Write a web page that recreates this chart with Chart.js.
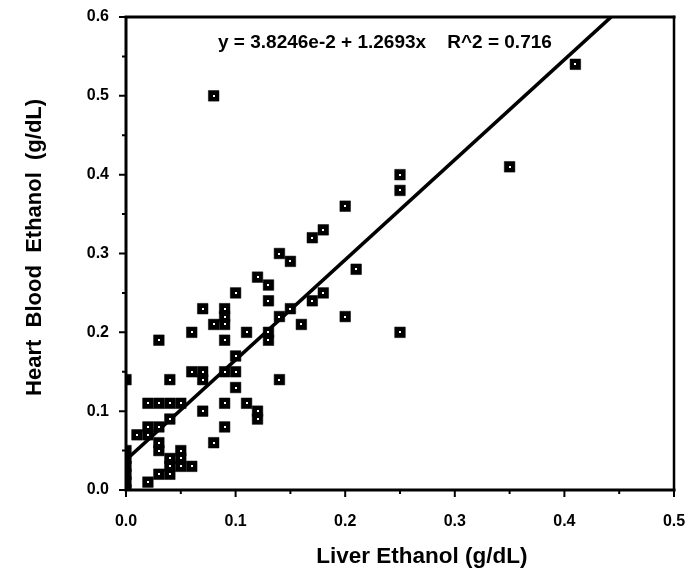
<!DOCTYPE html>
<html>
<head>
<meta charset="utf-8">
<script src="https://cdn.jsdelivr.net/npm/chart.js@4.4.0/dist/chart.umd.min.js"></script>
<style>
html,body{margin:0;padding:0;background:#fff;}
#wrap{width:685px;height:574px;}
</style>
</head>
<body>
<div id="wrap"><canvas id="c" width="685" height="574"></canvas></div>
<script>
// Liver ethanol (x) and heart blood ethanol (y), g/dL
const liverX = [
  0.08, 0.41, 0.35, 0.25, 0.25, 0.20, 0.18, 0.17, 0.14, 0.15, 0.21, 0.12, 0.13, 0.10, 0.18,
  0.13, 0.17, 0.15, 0.14, 0.20, 0.16, 0.25, 0.11, 0.13, 0.13,
  0.07, 0.09, 0.09, 0.08, 0.09, 0.06, 0.03, 0.09, 0.10, 0.06, 0.07, 0.09, 0.10, 0.04, 0.07,
  0.00, 0.14, 0.10,
  0.02, 0.03, 0.04, 0.05, 0.09, 0.11, 0.07, 0.12, 0.12, 0.04, 0.09, 0.02, 0.03, 0.01, 0.02,
  0.08, 0.03, 0.03, 0.05, 0.04, 0.05, 0.04, 0.05, 0.06, 0.03, 0.04, 0.02,
  0.00, 0.00, 0.00, 0.00, 0.00, 0.00
];
const heartY = [
  0.50, 0.54, 0.41, 0.40, 0.38, 0.36, 0.33, 0.32, 0.30, 0.29, 0.28, 0.27, 0.26, 0.25, 0.25,
  0.24, 0.24, 0.23, 0.22, 0.22, 0.21, 0.20, 0.20, 0.20, 0.19,
  0.23, 0.23, 0.22, 0.21, 0.21, 0.20, 0.19, 0.19, 0.17, 0.15, 0.15, 0.15, 0.15, 0.14, 0.14,
  0.14, 0.14, 0.13,
  0.11, 0.11, 0.11, 0.11, 0.11, 0.11, 0.10, 0.10, 0.09, 0.09, 0.08, 0.08, 0.08, 0.07, 0.07,
  0.06, 0.06, 0.05, 0.05, 0.04, 0.04, 0.03, 0.03, 0.03, 0.02, 0.02, 0.01,
  0.05, 0.04, 0.03, 0.02, 0.01, 0.00
];
// Regression: y = 3.8246e-2 + 1.2693x
const fitCoef = [0.038246, 1.2693];
const fitX = [0, 0.4427];
const fitLabel = "y = 3.8246e-2 + 1.2693x    R^2 = 0.716";
const xTicks = [0.0, 0.1, 0.2, 0.3, 0.4, 0.5];
const yTicks = [0.0, 0.1, 0.2, 0.3, 0.4, 0.5, 0.6];
const xTitle = "       Liver Ethanol (g/dL)";
const yTitle = "  Heart  Blood  Ethanol  (g/dL)";

const scatterData = liverX.map((x, i) => ({x: x, y: heartY[i]}));
const fitData = fitX.map(x => ({x: x, y: fitCoef[0] + fitCoef[1] * x}));

const FONT = "'Liberation Sans', Arial, Helvetica, sans-serif";

const framePlugin = {
  id: 'frame',
  afterDatasetsDraw(chart) {
    const {ctx, chartArea: a, scales} = chart;
    ctx.save();
    // white specks in the markers
    ctx.fillStyle = '#fff';
    chart.getDatasetMeta(1).data.forEach(el => {
      ctx.fillRect(Math.round(el.x) - 1, Math.round(el.y) - 1, 2, 2);
    });
    ctx.strokeStyle = '#000';
    ctx.lineCap = 'square';
    // frame
    ctx.lineWidth = 3;
    ctx.beginPath();
    ctx.moveTo(a.left, a.bottom); ctx.lineTo(a.left, a.top); ctx.lineTo(a.right, a.top);
    ctx.moveTo(a.left, a.bottom); ctx.lineTo(a.right, a.bottom);
    ctx.stroke();
    ctx.lineWidth = 2.5;
    ctx.beginPath();
    ctx.moveTo(a.right, a.top); ctx.lineTo(a.right, a.bottom);
    ctx.stroke();
    // major + minor ticks
    ctx.lineWidth = 2;
    ctx.lineCap = 'butt';
    ctx.beginPath();
    for (let k = 0; k <= 10; k++) {
      const v = k * 0.05;
      const px = scales.x.getPixelForValue(v);
      const len = (k % 2 === 0) ? 7 : 4;
      ctx.moveTo(px, a.bottom); ctx.lineTo(px, a.bottom + len);
    }
    for (let k = 0; k <= 12; k++) {
      const v = k * 0.05;
      const py = scales.y.getPixelForValue(v);
      const len = (k % 2 === 0) ? 7 : 4;
      ctx.moveTo(a.left, py); ctx.lineTo(a.left - len, py);
    }
    ctx.stroke();
    // equation text
    ctx.fillStyle = '#000';
    ctx.font = "bold 19px " + FONT;
    ctx.textBaseline = 'middle';
    ctx.textAlign = 'left';
    ctx.fillText(fitLabel, a.left + 92, a.top + 26);
    ctx.restore();
  }
};

new Chart(document.getElementById('c'), {
  type: 'scatter',
  data: {
    datasets: [
      {
        type: 'line',
        data: fitData,
        borderColor: '#000',
        borderWidth: 3.5,
        pointRadius: 0,
        fill: false,
        order: 2
      },
      {
        data: scatterData,
        pointStyle: 'rect',
        pointRadius: 7.5,
        pointBackgroundColor: '#000',
        pointBorderColor: '#000',
        pointBorderWidth: 0.5,
        order: 1
      }
    ]
  },
  options: {
    responsive: false,
    animation: false,
    events: [],
    layout: {padding: {top: 17, right: 11, left: 0, bottom: 0}},
    plugins: {legend: {display: false}, tooltip: {enabled: false}},
    scales: {
      x: {
        type: 'linear',
        min: 0, max: 0.5,
        afterFit(s) { s.height = 84; s.paddingRight = 0; s.paddingLeft = 0; },
        afterBuildTicks(s) { s.ticks = xTicks.map(v => ({value: v})); },
        grid: {display: false, drawOnChartArea: false},
        border: {display: false},
        ticks: {
          color: '#000',
          padding: 14,
          maxRotation: 0,
          font: {family: FONT, size: 16, weight: 'bold'},
          callback: v => Number(v).toFixed(1)
        },
        title: {
          display: true, text: xTitle, color: '#000',
          font: {family: FONT, size: 22.5, weight: 'bold'},
          padding: {top: 0, bottom: 4}
        }
      },
      y: {
        type: 'linear',
        min: 0, max: 0.6,
        afterFit(s) { s.width = 126; s.paddingTop = 0; s.paddingBottom = 0; },
        afterBuildTicks(s) { s.ticks = yTicks.map(v => ({value: v})); },
        grid: {display: false, drawOnChartArea: false},
        border: {display: false},
        ticks: {
          color: '#000',
          padding: 9,
          font: {family: FONT, size: 16, weight: 'bold'},
          callback: v => Number(v).toFixed(1)
        },
        title: {
          display: true, text: yTitle, color: '#000',
          font: {family: FONT, size: 22, weight: 'bold'},
          padding: {top: 22, bottom: 0}
        }
      }
    }
  },
  plugins: [framePlugin]
});
</script>
</body>
</html>
